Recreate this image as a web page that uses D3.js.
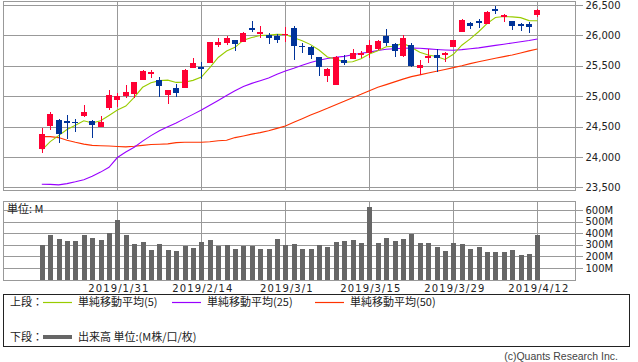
<!DOCTYPE html>
<html><head><meta charset="utf-8">
<script src="https://cdn.jsdelivr.net/npm/d3@7"></script>
<style>body{margin:0;background:#fff}svg{display:block}</style>
</head><body>
<script>
const dates = ["2019/1/17","2019/1/18","2019/1/22","2019/1/23","2019/1/24","2019/1/25","2019/1/28","2019/1/29","2019/1/30","2019/1/31",
"2019/2/1","2019/2/4","2019/2/5","2019/2/6","2019/2/7","2019/2/8","2019/2/11","2019/2/12","2019/2/13","2019/2/14",
"2019/2/15","2019/2/19","2019/2/20","2019/2/21","2019/2/22","2019/2/25","2019/2/26","2019/2/27","2019/2/28","2019/3/1",
"2019/3/4","2019/3/5","2019/3/6","2019/3/7","2019/3/8","2019/3/11","2019/3/12","2019/3/13","2019/3/14","2019/3/15",
"2019/3/18","2019/3/19","2019/3/20","2019/3/21","2019/3/22","2019/3/25","2019/3/26","2019/3/27","2019/3/28","2019/3/29",
"2019/4/1","2019/4/2","2019/4/3","2019/4/4","2019/4/5","2019/4/8","2019/4/9","2019/4/10","2019/4/11","2019/4/12"];
const open  = [24132,24510,24609,24590,24576,24680,24592,24500,24806,24937,25003,25036,25266,25365,25266,25020,25135,25135,25464,25480,
25546,25840,25870,25924,25891,26122,26030,26007,25990,26010,26122,25826,25809,25645,25332,25190,25595,25612,25694,25711,
25776,25990,25859,25661,25842,25464,25628,25678,25678,25809,26056,26204,26237,26188,26430,26303,26237,26188,26188,26336];
const high  = [24482,24740,24620,24691,24625,24855,24600,24674,25102,25053,25184,25240,25431,25431,25316,25106,25201,25447,25628,25562,
25883,25957,25990,25930,26056,26237,26155,26040,26023,26138,26155,25875,25826,25645,25464,25660,25678,25776,25743,25924,
25924,26105,25870,26007,25875,25595,25776,25776,25727,25929,26270,26220,26270,26401,26484,26345,26237,26204,26220,26434];
const low   = [24071,24444,24235,24296,24411,24658,24313,24493,24773,24822,24970,24975,25266,25299,24987,24872,24987,25135,25464,25283,
25546,25809,25842,25743,25891,26056,25957,25859,25875,25891,25595,25711,25612,25332,25234,25184,25513,25612,25628,25628,
25760,25826,25645,25645,25480,25349,25546,25398,25562,25809,26056,26105,26122,26188,26352,26220,26089,26072,26039,26303];
const close = [24370,24706,24385,24575,24553,24737,24528,24580,25015,25000,25064,25239,25411,25390,25170,25106,25053,25426,25543,25439,
25883,25891,25954,25851,26032,26092,26058,25965,25916,26026,25820,25806,25673,25473,25450,25650,25550,25703,25710,25849,
25914,25880,25745,25962,25502,25517,25658,25620,25717,25929,26258,26160,26210,26385,26425,26341,26150,26157,26143,26412];
const volume = [297,380,346,329,329,388,357,337,402,516,380,303,320,252,303,252,244,286,269,320,
337,286,295,261,286,286,261,261,346,295,303,261,261,295,278,320,329,337,312,626,
312,354,329,346,397,312,312,278,244,312,303,261,278,235,235,235,252,210,218,380];
const ma5 = [24110,24252,24351,24452,24522,24595,24559,24595,24683,24772,24837,24980,25146,25221,25255,25263,25226,25229,25260,25313,
25469,25636,25742,25804,25922,25964,25997,26004,26017,26015,25961,25911,25848,25760,25645,25611,25560,25566,25614,25693,
25746,25813,25821,25872,25802,25723,25677,25653,25604,25689,25838,25942,26060,26194,26293,26310,26304,26292,26243,26241];
const ma25 = [23551,23548,23540,23560,23590,23625,23680,23750,23830,23990,24080,24160,24260,24350,24430,24498,24560,24630,24700,24773,
24850,24930,25010,25090,25160,25210,25255,25300,25360,25414,25460,25510,25555,25590,25620,25640,25655,25680,25705,25725,
25750,25772,25780,25788,25792,25788,25778,25768,25760,25755,25765,25780,25795,25815,25835,25855,25875,25895,25915,25940];
const ma50 = [24334,24334,24318,24275,24240,24210,24190,24185,24180,24172,24165,24175,24190,24205,24209,24215,24235,24242,24242,24242,
24250,24265,24275,24318,24345,24375,24400,24430,24470,24510,24570,24630,24690,24745,24800,24860,24915,24975,25030,25090,
25146,25190,25235,25280,25321,25350,25380,25410,25440,25469,25500,25535,25567,25595,25625,25650,25678,25710,25745,25775];
const dateTicks = ["2019/1/31","2019/2/14","2019/3/1","2019/3/15","2019/3/29","2019/4/12"];
const priceTicks = [23500,24000,24500,25000,25500,26000,26500];
const volTicks = [100,200,300,400,500,600];
const legendTop = [{label:"単純移動平均(5)", color:"#99cc00"},{label:"単純移動平均(25)", color:"#9900ff"},{label:"単純移動平均(50)", color:"#ff3300"}];

const W=638,H=362, L=3, R=575;
const RED="#ff0033", BLUE="#003399", GRID="#999";
const svg=d3.select("body").append("svg").attr("width",W).attr("height",H)
  .style("font-family","'DejaVu Sans',sans-serif");

const x=d3.scaleLinear().domain([0,59]).range([41.8,537.4]);
const y=d3.scaleLinear().domain([23500,26500]).range([187.3,5]);
const yv=d3.scaleLinear().domain([0,600]).range([279.5,210]);
const px=v=>Math.round(v)+0.5;
const tickIdx=dateTicks.map(t=>dates.indexOf(t));

function panel(top,bottom,scale,ticks,fmt){
  const g=svg.append("g").attr("shape-rendering","crispEdges");
  g.selectAll(".hg").data(ticks).join("line")
    .attr("x1",L).attr("x2",R).attr("y1",d=>px(scale(d))).attr("y2",d=>px(scale(d)))
    .attr("stroke",GRID);
  g.selectAll(".vg").data(tickIdx).join("line")
    .attr("x1",d=>px(x(d))).attr("x2",d=>px(x(d))).attr("y1",top).attr("y2",bottom)
    .attr("stroke",GRID);
  g.append("rect").attr("x",L+0.5).attr("y",top+0.5).attr("width",R-L).attr("height",bottom-top)
    .attr("fill","none").attr("stroke",GRID);
  const ax=svg.append("g").attr("transform",`translate(${R+0.5},0)`)
    .call(d3.axisRight(scale).tickValues(ticks).tickSize(7).tickPadding(3).tickFormat(fmt));
  ax.select(".domain").remove();
  ax.selectAll("line").attr("stroke",GRID).attr("shape-rendering","crispEdges");
  ax.selectAll("text").attr("font-size","10px").attr("fill","#222")
    .attr("font-family","'DejaVu Sans',sans-serif");
}
panel(0.5,190,y,priceTicks,d3.format(","));
panel(201,279.5,yv,volTicks,d=>d+"M");

// MA lines
const line=arr=>d3.line().x((d,i)=>x(i)).y(d=>y(d))(arr);
[[ma50,"#ff3300"],[ma25,"#9900ff"],[ma5,"#99cc00"]].forEach(([a,c])=>{
  svg.append("path").attr("d",line(a)).attr("fill","none").attr("stroke",c).attr("stroke-width",1.1);
});

// candles
const cg=svg.append("g").attr("shape-rendering","crispEdges");
dates.forEach((d,i)=>{
  const cx=Math.round(x(i));
  const up=close[i]>=open[i];
  const col=up?RED:BLUE;
  cg.append("line").attr("x1",cx+0.5).attr("x2",cx+0.5).attr("y1",y(high[i])).attr("y2",y(low[i])).attr("stroke",col);
  const t=y(Math.max(open[i],close[i])), b=y(Math.min(open[i],close[i]));
  cg.append("rect").attr("x",cx-3).attr("width",6).attr("y",t).attr("height",Math.max(1.5,b-t)).attr("fill",col);
});

// volume bars
svg.append("g").attr("shape-rendering","crispEdges").selectAll("rect").data(volume).join("rect")
  .attr("x",(d,i)=>Math.round(x(i))-2.5).attr("width",5.5)
  .attr("y",d=>yv(d)).attr("height",d=>yv(0)-yv(d)).attr("fill","#666");

svg.append("text").attr("x",7).attr("y",213).attr("font-size","11px").attr("fill","#222")
  .attr("font-family","'Noto Sans CJK JP',sans-serif").text("単位: M");

// date labels
svg.selectAll(".dl").data(dateTicks).join("text")
  .attr("x",d=>x(dates.indexOf(d))+1.5).attr("y",292).attr("text-anchor","middle")
  .attr("font-size","10px").attr("letter-spacing","1.1px").attr("fill","#222").text(d=>d);

// legend
svg.append("rect").attr("x",3.5).attr("y",294.5).attr("width",626).attr("height",52)
  .attr("fill","none").attr("stroke","#222").attr("shape-rendering","crispEdges");
const jp="'Noto Sans CJK JP',sans-serif";
svg.append("text").attr("x",10).attr("y",306).attr("font-size","11px").attr("font-family",jp).attr("fill","#222").text("上段：");
const lx=[43,172,315];
legendTop.forEach((d,i)=>{
  svg.append("line").attr("x1",lx[i]).attr("x2",lx[i]+29).attr("y1",302.5).attr("y2",302.5).attr("stroke",d.color).attr("stroke-width",1.2);
  svg.append("text").attr("x",lx[i]+35).attr("y",306).attr("font-size","11px").attr("font-family",jp).attr("fill","#222").text(d.label);
});
svg.append("text").attr("x",10).attr("y",341).attr("font-size","11px").attr("font-family",jp).attr("fill","#222").text("下段：");
svg.append("line").attr("x1",43).attr("x2",72).attr("y1",337).attr("y2",337).attr("stroke","#666").attr("stroke-width",4);
svg.append("text").attr("x",78).attr("y",341).attr("font-size","11px").attr("font-family",jp).attr("fill","#222").text("出来高 単位:(M株/口/枚)");
svg.append("text").attr("x",618).attr("y",360).attr("text-anchor","end").attr("font-size","10.5px")
  .attr("font-family","'Liberation Sans',sans-serif").attr("fill","#444").text("(c)Quants Research Inc.");
</script>
</body></html>
